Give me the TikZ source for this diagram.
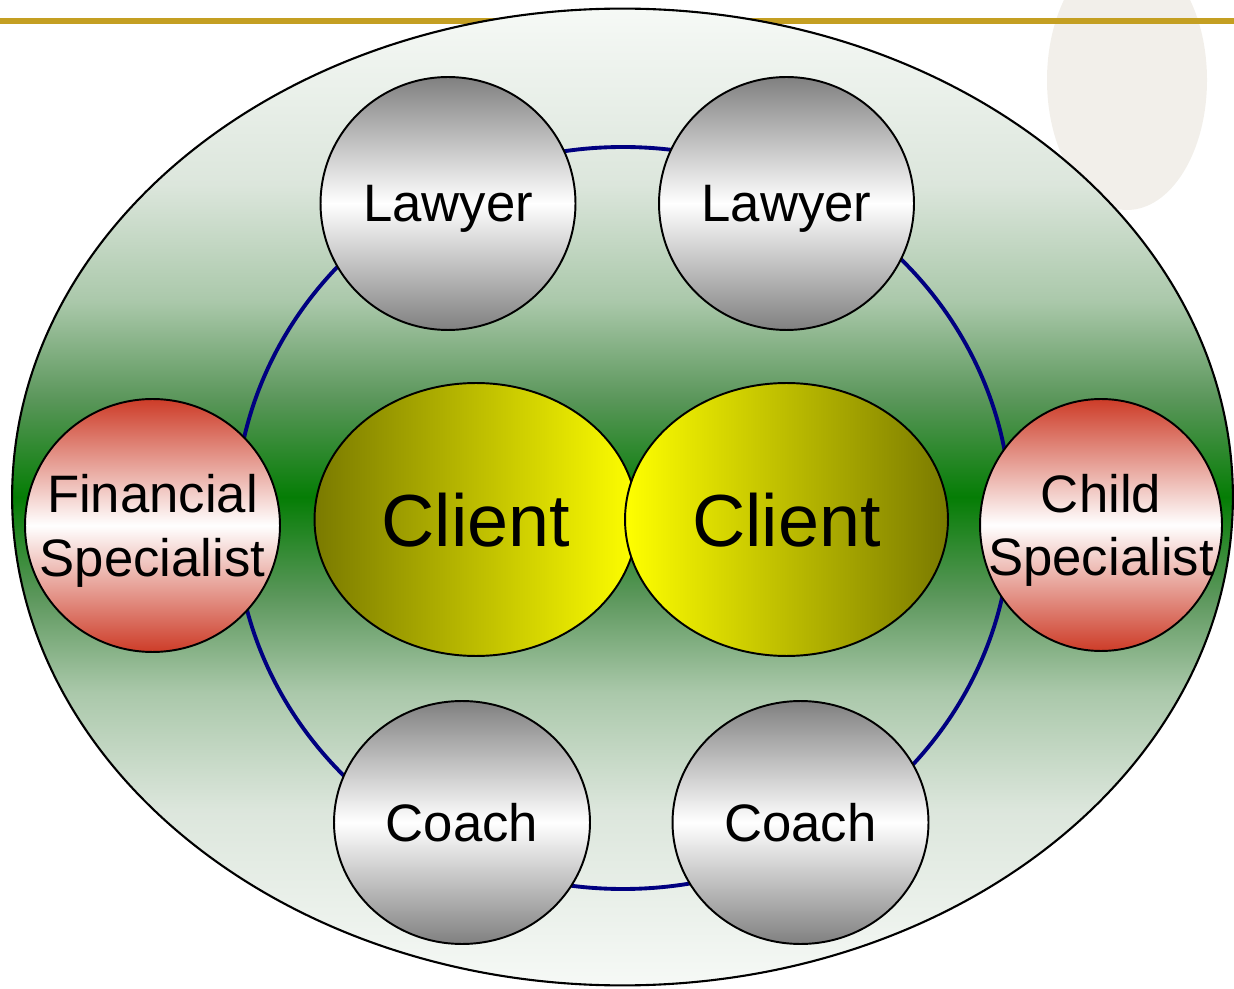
\documentclass[tikz,border=0pt]{standalone}
\usepackage{fontspec}
\setmainfont{Liberation Sans}
\usetikzlibrary{shapes.geometric}
\definecolor{rulegold}{HTML}{C49F22}
\definecolor{blobtan}{HTML}{F2EFEA}
\definecolor{ringnavy}{HTML}{000080}
\definecolor{ballgrey}{HTML}{808080}
\definecolor{ballred}{HTML}{CD3C28}
\definecolor{clientolive}{HTML}{7A7A00}
\definecolor{clientyellow}{HTML}{FFFF00}
\definecolor{teampale}{HTML}{F6F9F6}
\definecolor{teamlight}{HTML}{DCE6DC}
\definecolor{teammid}{HTML}{AAC8AA}
\definecolor{teamdeep}{HTML}{5A965A}
\definecolor{teamgreen}{HTML}{057D05}
% green band through the middle of the team ellipse
\pgfdeclareverticalshading{teamfade}{100bp}{color(0bp)=(teampale); color(25bp)=(teampale);
 color(34bp)=(teamlight); color(40bp)=(teammid); color(45bp)=(teamdeep); color(50bp)=(teamgreen);
 color(55bp)=(teamdeep); color(60bp)=(teammid); color(66bp)=(teamlight); color(75bp)=(teampale);
 color(100bp)=(teampale)}

\begin{document}
\begin{tikzpicture}[x=0.02cm,y=-0.02cm,
every node/.style={font=\fontsize{30}{36}\selectfont,text depth=0pt,inner sep=0pt},
member/.style={ellipse,draw=black,line width=1.1pt,top color=#1,bottom color=#1,middle color=white,align=center,inner sep=-1.2cm,minimum width=5.1cm,minimum height=5.06cm},
client/.style={ellipse,draw=black,line width=1.1pt,minimum width=6.46cm,minimum height=5.46cm,font=\fontsize{42}{50}\selectfont}]
\useasboundingbox (0,0) rectangle (1234,989);
\clip (0,0) rectangle (1234,989);
% backdrop
\fill[blobtan] (1127,80) ellipse [x radius=80,y radius=130];
\draw[rulegold,line width=3.4pt] (0,21) -- (1234,21);
\node[ellipse,draw=black,line width=1.2pt,shading=teamfade,minimum width=24.42cm,minimum height=19.54cm] (team) at (622.5,497) {};
\draw[ringnavy,line width=2.2pt] (623,518) ellipse [x radius=388,y radius=371];
% professionals round the ring
\node[member=ballgrey] (lawyerA) at (448,203.5) {Lawyer};
\node[member=ballgrey] (lawyerB) at (786.5,203.5) {Lawyer};
\node[member=ballred] (finance) at (152.5,525.5) {Financial\\Specialist};
\node[member=ballred,minimum width=4.84cm,minimum height=5.04cm] (child) at (1101,525) {Child\\Specialist};
\node[member=ballgrey,minimum width=5.12cm,minimum height=4.86cm] (coachA) at (462,822.5) {Coach};
\node[member=ballgrey,minimum width=5.12cm,minimum height=4.86cm] (coachB) at (800.5,822.5) {Coach};
% the two clients
\node[client,left color=clientolive,right color=clientyellow] (clientA) at (476,519.5) {Client};
\node[client,left color=clientyellow,right color=clientolive] (clientB) at (786.5,519.5) {Client};
\end{tikzpicture}
\end{document}
